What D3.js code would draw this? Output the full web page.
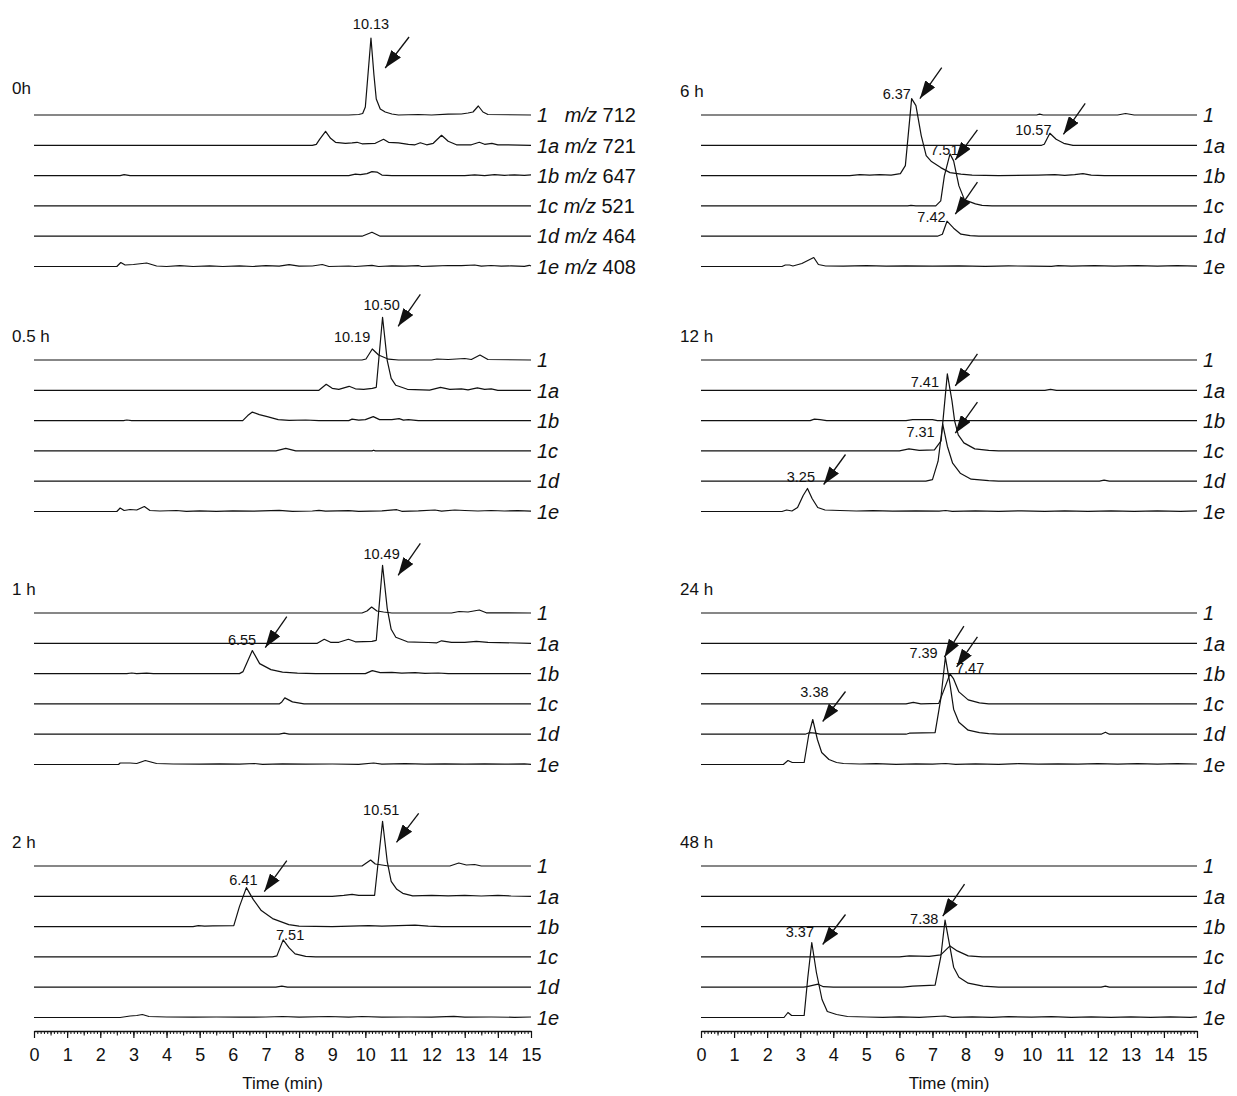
<!DOCTYPE html>
<html>
<head>
<meta charset="utf-8">
<script src="https://cdn.jsdelivr.net/npm/d3@7"></script>
<style>
  body { margin: 0; background: #fff; }
  svg { display: block; font-family: "Liberation Sans", Arial, sans-serif; }
</style>
</head>
<body>
<div id="chart"></div>
<script>
// ---- data (time in min, intensity in arbitrary units) ----
const panelNames = ["0h", "0.5 h", "1 h", "2 h", "6 h", "12 h", "24 h", "48 h"];
const traceNames = ["1", "1a", "1b", "1c", "1d", "1e"];
const mzValues = ["712", "721", "647", "521", "464", "408"];
const timeTicks = [0, 1, 2, 3, 4, 5, 6, 7, 8, 9, 10, 11, 12, 13, 14, 15];

const flat = [[0, 0], [15, 0]];

const trace0h = [
  [[0,0],[9.5,0],[9.8,0.5],[9.92,1.5],[10.0,8],[10.17,77],[10.26,40],[10.33,16],[10.45,6],[10.6,3],[10.8,1],[11.0,0],[11.6,0.5],[12.0,0],[12.5,0.8],[12.9,1],[13.1,2],[13.25,3],[13.41,9],[13.55,3],[13.7,0.5],[15,0]],
  [[0,0],[8.4,0],[8.52,1],[8.62,6],[8.8,14],[8.95,7],[9.1,3],[9.4,2],[9.6,2.5],[9.75,3],[9.9,1.5],[10.3,2],[10.55,6],[10.7,3],[11.0,2.5],[11.3,1],[11.5,0.5],[11.66,2.5],[11.85,0.5],[12.05,2],[12.3,10],[12.5,4],[12.75,0.5],[13.2,0.5],[13.44,3],[13.6,1],[13.82,2],[14.0,0.5],[14.3,0.5],[15,0]],
  [[0,0],[2.6,0],[2.72,1],[2.9,0],[9.5,0],[9.7,1.5],[9.85,1],[10.05,2],[10.2,4],[10.35,3.5],[10.5,0.5],[10.8,0],[13.0,0],[13.3,0.8],[13.6,0],[13.9,1],[14.2,0.3],[14.5,0.8],[14.8,0.2],[15,0.8]],
  flat,
  [[0,0],[9.9,0],[10.2,4],[10.45,0],[15,0]],
  [[0,0],[2.5,0],[2.62,4],[2.75,1.5],[3.0,2],[3.4,3.5],[3.7,0.5],[4.0,0],[4.4,0.8],[4.8,0],[5.3,0.7],[5.7,0],[6.2,0.6],[6.6,0],[7.0,0.8],[7.4,0.3],[7.7,1.8],[8.0,0.3],[8.4,0.5],[8.7,2],[8.9,0],[9.5,0.5],[9.7,0],[10.2,1.2],[10.4,0],[10.8,0.6],[11.2,0.3],[11.6,0.8],[11.7,0],[12.0,0.4],[12.5,1],[12.9,0.8],[13.3,1.5],[13.5,0.3],[13.8,1],[14.1,0.3],[14.4,0.6],[14.8,0.2],[14.95,1.2],[15,0.5]]
];

const trace05h = [
  [[0,0],[9.9,0],[10.02,1],[10.21,11],[10.4,5],[10.7,0.8],[11.0,0],[12.0,0],[12.16,1],[12.5,0.5],[13.0,1.5],[13.2,0.5],[13.46,5],[13.7,0.5],[15,0]],
  [[0,0],[8.6,0],[8.82,6],[9.0,2],[9.2,1],[9.51,4],[9.7,1.5],[9.95,1],[10.21,2],[10.33,3],[10.52,73],[10.66,30],[10.78,12],[10.92,5],[11.27,1],[11.94,0.2],[12.27,3],[12.55,1],[12.9,1.5],[13.1,0.5],[13.38,2.5],[13.6,1],[13.8,1.5],[14.0,0],[15,0]],
  [[0,0],[2.7,0],[2.8,0.6],[2.95,0],[6.3,0],[6.45,5],[6.59,8.5],[6.8,6],[7.04,4],[7.37,1],[7.7,0.3],[8.2,0.6],[8.6,0],[9.5,0],[9.6,1.5],[9.8,0.5],[10.0,1],[10.24,4],[10.43,1],[10.8,1],[11.02,2],[11.15,0.5],[11.3,1],[11.6,0],[15,0]],
  [[0,0],[7.3,0],[7.6,2.5],[7.9,0],[10.2,0],[10.25,0.7],[10.3,0],[15,0]],
  flat,
  [[0,0],[2.5,0],[2.6,3.5],[2.72,1],[2.9,2],[3.1,1.5],[3.33,5],[3.5,1],[3.8,0.5],[4.3,1],[4.6,0.2],[5.0,0.7],[5.5,0.2],[6.0,0.6],[6.6,0.3],[7.4,1.2],[7.8,0.2],[8.4,0.5],[8.6,1.2],[8.8,0.3],[9.5,0.8],[9.8,0.2],[10.5,0.6],[10.95,1.8],[11.1,0.2],[11.6,0.6],[12.1,1.5],[12.3,0.3],[12.7,1.5],[13.0,1],[13.4,0.5],[13.8,1],[14.2,0.5],[14.6,0.8],[15,0.3]]
];

const trace1h = [
  [[0,0],[9.9,0],[10.05,2],[10.19,6],[10.35,2],[10.55,1],[10.8,0],[12.6,0],[12.83,1.5],[13.1,1],[13.44,3],[13.65,0.2],[15,0]],
  [[0,0],[8.55,0],[8.76,4],[8.95,1],[9.2,1],[9.49,4],[9.7,1.5],[10.2,2],[10.33,3],[10.52,78],[10.66,35],[10.78,14],[10.92,6],[11.27,1.5],[11.9,0.8],[12.16,0.5],[12.3,2.5],[12.6,1],[13.0,1],[13.35,2],[13.7,1],[15,0]],
  [[0,0],[2.8,0],[2.95,0.6],[3.1,0],[3.4,0.5],[3.6,0],[6.2,0],[6.31,2],[6.59,23],[6.81,10],[7.15,4],[7.5,1.5],[7.95,0.5],[8.5,0],[10.0,0],[10.21,3],[10.45,1],[10.8,1.2],[11.1,0.5],[11.5,1],[11.8,0.2],[12.2,0.6],[12.5,0],[15,0]],
  [[0,0],[7.4,0],[7.48,2],[7.57,6],[7.8,2],[8.15,0],[15,0]],
  [[0,0],[7.4,0],[7.55,1],[7.7,0],[15,0]],
  [[0,0],[2.55,0],[2.6,1.5],[2.9,1.5],[3.1,1],[3.36,4],[3.7,1],[4.2,0.5],[5.0,0.3],[5.6,0.6],[6.2,0.3],[6.65,1],[6.9,0.2],[7.5,0.6],[8.2,0.3],[9.0,0.5],[9.8,0.2],[10.25,1.5],[10.5,0.3],[11.2,0.8],[11.8,0.3],[12.4,0.7],[13.0,0.3],[13.6,0.7],[14.2,0.3],[14.8,0.6],[15,0.2]]
];

const trace2h = [
  [[0,0],[9.9,0],[10.16,6],[10.3,2],[10.5,1],[10.7,0],[12.55,0],[12.82,3],[13.05,1],[13.3,1.5],[13.5,0],[15,0]],
  [[0,0],[9.0,0],[9.35,1],[9.6,2],[9.8,1],[10.0,1],[10.28,1],[10.52,75],[10.66,35],[10.78,15],[10.95,7],[11.13,3],[11.43,0.5],[12.0,1],[12.5,0.5],[13.0,1],[13.5,0.3],[14.0,1],[14.4,0.3],[15,0]],
  [[0,0],[4.8,0],[4.96,1],[5.15,0.5],[5.4,0.7],[6.03,1],[6.2,20],[6.41,39],[6.62,27],[6.86,16],[7.2,8],[7.69,2],[8.0,0.5],[9.0,0],[10.1,1],[10.5,0.5],[11.0,1],[11.5,1.5],[11.9,0.5],[12.3,0],[15,0]],
  [[0,0],[7.2,0],[7.33,1],[7.52,17],[7.7,9],[7.88,3],[8.2,0.5],[8.5,0],[15,0]],
  [[0,0],[7.3,0],[7.48,1],[7.65,0],[15,0]],
  [[0,0],[2.6,0],[2.9,1.5],[3.1,2],[3.27,3],[3.47,1],[4.0,0.5],[4.8,0.3],[5.5,0.5],[6.2,0.3],[7.0,0.5],[7.5,1],[8.0,0.3],[8.9,1],[9.5,0.3],[9.9,1],[10.5,0.3],[11.3,0.5],[12.0,0.3],[12.67,1.2],[13.0,0.3],[13.8,0.5],[14.5,0.2],[15,0.5]]
];

const trace6h = [
  [[0,0],[10.15,0],[10.24,0.8],[10.35,0],[12.6,0],[12.84,1.5],[13.1,0],[15,0]],
  [[0,0],[10.3,0],[10.38,1],[10.55,12],[10.74,6],[10.97,2],[11.25,0],[15,0]],
  [[0,0],[4.5,0],[4.8,1],[5.1,0.5],[5.4,1],[5.75,0.5],[6.03,2],[6.18,10],[6.37,77],[6.5,70],[6.66,40],[6.81,20],[6.97,14],[7.25,8],[7.53,3],[7.86,1.5],[8.2,0.5],[9.0,0],[10.2,0.5],[10.7,1],[11.0,0.3],[11.3,1],[11.55,2],[11.8,0.5],[12.2,0],[15,0]],
  [[0,0],[6.25,0],[6.35,0.5],[6.5,0],[7.1,0],[7.25,5],[7.36,30],[7.53,52],[7.64,45],[7.8,20],[7.97,6],[8.3,2],[8.5,0.5],[8.8,0],[15,0]],
  [[0,0],[7.15,0],[7.3,2],[7.44,15],[7.64,8],[7.86,2],[8.14,0.5],[8.4,0],[15,0]],
  [[0,0],[2.45,0],[2.55,1.5],[2.68,1.5],[2.78,0.5],[3.05,3],[3.41,9],[3.55,2],[3.77,0.5],[4.3,0.3],[5.0,0.8],[5.6,0.3],[6.2,0.6],[7.0,0.3],[7.8,0.7],[8.6,0.2],[9.3,0.6],[10.0,0.3],[10.6,0.2],[10.8,0.8],[11.2,0.3],[11.9,0.8],[12.5,0.3],[13.2,0.8],[13.8,0.3],[14.4,0.8],[15,0.3]]
];

const trace12h = [
  flat,
  [[0,0],[10.4,0],[10.57,1],[10.75,0],[15,0]],
  [[0,0],[3.3,0],[3.43,1.5],[3.6,1],[3.8,0],[6.2,0],[6.4,1],[7.0,1],[7.15,0],[15,0]],
  [[0,0],[6.0,0],[6.29,2],[6.6,0.5],[7.06,1],[7.26,10],[7.45,77],[7.59,50],[7.67,30],[7.78,16],[7.95,8],[8.28,2],[8.7,0.5],[9.0,0],[15,0]],
  [[0,0],[6.8,0],[7.0,1.5],[7.17,20],[7.31,57],[7.45,35],[7.61,18],[7.84,8],[8.17,2],[8.7,0.5],[9.0,0],[12.05,0],[12.19,1],[12.35,0],[15,0]],
  [[0,0],[2.45,0],[2.59,1.5],[2.75,0.5],[2.92,4],[3.09,16],[3.22,23],[3.36,13],[3.53,4],[3.75,1.5],[4.2,1],[4.7,0.5],[5.2,0.8],[5.8,0.3],[6.5,0.6],[7.2,0.3],[7.4,1],[7.6,0.2],[8.3,0.6],[9.0,0.2],[9.7,0.7],[10.4,0.2],[11.0,0.6],[11.7,0.2],[12.4,0.6],[13.1,0.2],[13.8,0.7],[14.5,0.2],[15,0.6]]
];

const trace24h = [
  flat,
  flat,
  flat,
  [[0,0],[6.2,0],[6.42,1.5],[6.65,0],[7.19,0.5],[7.36,15],[7.53,30],[7.64,25],[7.8,12],[8.08,4],[8.42,1],[8.7,0],[15,0]],
  [[0,0],[3.15,0],[3.27,1.5],[3.45,1],[3.6,0],[6.2,0],[6.3,1],[7.08,1.5],[7.25,35],[7.39,77],[7.53,50],[7.64,25],[7.8,12],[8.08,4],[8.42,1.5],[8.7,0.5],[9.0,0],[12.1,0],[12.23,2],[12.35,0],[15,0]],
  [[0,0],[2.49,0],[2.63,4],[2.76,2],[3.12,2],[3.26,30],[3.38,45],[3.52,25],[3.65,12],[3.87,5],[4.1,2],[4.31,1],[4.8,0.5],[5.3,0.8],[5.9,0.2],[6.5,0.6],[7.0,0.3],[7.4,1],[7.7,0.2],[8.3,0.6],[9.0,0.2],[9.6,0.8],[10.2,0.3],[10.8,0.7],[11.4,0.3],[12.0,0.8],[12.6,0.3],[13.2,0.8],[13.8,0.3],[14.4,0.8],[15,0.5]]
];

const trace48h = [
  flat,
  flat,
  flat,
  [[0,0],[6.0,0],[6.3,1],[6.9,0.5],[7.25,2],[7.53,11],[7.75,6],[8.08,1],[8.5,0],[15,0]],
  [[0,0],[3.1,0],[3.21,0.5],[3.54,3],[3.7,0.5],[4.0,0],[6.1,0],[6.4,1],[7.08,2],[7.25,30],[7.38,67],[7.53,40],[7.64,20],[7.8,10],[8.08,4],[8.53,1],[9.0,0],[12.1,0],[12.23,1],[12.35,0],[15,0]],
  [[0,0],[2.51,0],[2.63,5],[2.74,2],[3.12,2],[3.23,40],[3.35,75],[3.49,45],[3.66,18],[3.82,6],[4.1,3],[4.43,1],[5.0,0.5],[5.5,0.2],[6.0,0.7],[6.6,0.2],[7.38,1.5],[7.6,0.2],[8.2,0.6],[8.8,0.2],[9.3,0.8],[10.0,0.3],[10.6,0.8],[11.2,0.2],[11.8,0.7],[12.4,0.2],[13.0,0.6],[13.6,0.2],[14.2,0.6],[14.8,0.2],[15,0.6]]
];

// peak labels: [trace index, time, intensity, text]
const peaks0h = [[0, 10.17, 91, "10.13"]];
const peaks05h = [[1, 10.49, 86, "10.50"], [0, 9.6, 23, "10.19"]];
const peaks1h = [[1, 10.49, 90, "10.49"], [2, 6.28, 34, "6.55"]];
const peaks2h = [[1, 10.48, 87, "10.51"], [2, 6.32, 47, "6.41"], [3, 7.73, 22, "7.51"]];
const peaks6h = [[2, 5.92, 82, "6.37"], [1, 10.05, 16, "10.57"], [3, 7.36, 56, "7.51"], [4, 6.97, 19, "7.42"]];
const peaks12h = [[3, 6.77, 69, "7.41"], [4, 6.64, 49, "7.31"], [5, 3.02, 35, "3.25"]];
const peaks24h = [[4, 6.73, 81, "7.39"], [3, 8.14, 36, "7.47"], [5, 3.43, 73, "3.38"]];
const peaks48h = [[5, 2.99, 86, "3.37"], [4, 6.75, 68, "7.38"]];

// arrows: [trace index, tail time, tail intensity, tip time, tip intensity]
const arrows0h = [[0, 11.32, 78, 10.6, 47]];
const arrows05h = [[1, 11.66, 96, 10.99, 64]];
const arrows1h = [[1, 11.66, 100, 10.99, 68], [2, 7.63, 57, 6.98, 26]];
const arrows2h = [[1, 11.61, 83, 10.94, 54], [2, 7.63, 66, 6.95, 35]];
const arrows6h = [[2, 7.28, 108, 6.62, 77], [1, 11.62, 42, 10.96, 11], [3, 8.36, 76, 7.69, 46], [4, 8.36, 54, 7.69, 22]];
const arrows12h = [[3, 8.36, 97, 7.69, 65], [4, 8.36, 79, 7.69, 48], [5, 4.37, 57, 3.71, 27]];
const arrows24h = [[4, 7.95, 108, 7.36, 77], [3, 8.36, 67, 7.73, 37], [5, 4.37, 73, 3.68, 43]];
const arrows48h = [[5, 4.37, 103, 3.68, 73], [4, 7.97, 103, 7.31, 71]];

const panels = [
  { col: 0, row: 0, traces: trace0h, peaks: peaks0h, arrows: arrows0h },
  { col: 0, row: 1, traces: trace05h, peaks: peaks05h, arrows: arrows05h },
  { col: 0, row: 2, traces: trace1h, peaks: peaks1h, arrows: arrows1h },
  { col: 0, row: 3, traces: trace2h, peaks: peaks2h, arrows: arrows2h },
  { col: 1, row: 0, traces: trace6h, peaks: peaks6h, arrows: arrows6h },
  { col: 1, row: 1, traces: trace12h, peaks: peaks12h, arrows: arrows12h },
  { col: 1, row: 2, traces: trace24h, peaks: peaks24h, arrows: arrows24h },
  { col: 1, row: 3, traces: trace48h, peaks: peaks48h, arrows: arrows48h }
];

// ---- layout ----
const width = 1237;
const height = 1096;
const rowBase = [115, 360, 613, 866];
const traceGap = 30.3;
const axisY = 1031;

const xScales = [
  d3.scaleLinear().domain([0, 15]).range([34, 531]),
  d3.scaleLinear().domain([0, 15]).range([701, 1197])
];

const svg = d3.select('#chart')
  .append('svg')
  .attr('width', width)
  .attr('height', height);

svg.append('rect').attr('width', width).attr('height', height).attr('fill', '#fff');

svg.append('defs').append('marker')
  .attr('id', 'head')
  .attr('markerUnits', 'userSpaceOnUse')
  .attr('markerWidth', 19)
  .attr('markerHeight', 12)
  .attr('refX', 18)
  .attr('refY', 6)
  .attr('orient', 'auto')
  .append('path')
  .attr('d', 'M0,0 L18,6 L0,12 Z')
  .attr('fill', '#111');

const ink = '#111';

panels.forEach((p, pi) => {
  const x = xScales[p.col];
  const base = rowBase[p.row];
  const yFor = i => d3.scaleLinear().domain([0, 100]).range([base + i * traceGap, base + i * traceGap - 100]);
  const g = svg.append('g');

  // panel title
  g.append('text')
    .attr('x', x.range()[0] - (p.col === 0 ? 22 : 21))
    .attr('y', base - (pi === 0 ? 27 : 24))
    .attr('dy', '0.35em')
    .attr('font-size', 17)
    .attr('fill', ink)
    .text(panelNames[pi]);

  // traces
  p.traces.forEach((pts, i) => {
    const y = yFor(i);
    const line = d3.line()
      .x(d => x(d[0]))
      .y(d => y(d[1]));
    g.append('path')
      .datum(pts)
      .attr('fill', 'none')
      .attr('stroke', ink)
      .attr('stroke-width', 1.2)
      .attr('stroke-linejoin', 'round')
      .attr('d', line);

    const lbl = g.append('text')
      .attr('x', x(15) + 6)
      .attr('y', y(0))
      .attr('dy', '0.36em')
      .attr('font-size', 20)
      .attr('fill', ink);
    lbl.append('tspan').attr('font-style', 'italic').text(traceNames[i]);
    if (pi === 0) {
      lbl.append('tspan').attr('font-style', 'italic').text((i === 0 ? '\u00a0\u00a0\u00a0' : '\u00a0') + 'm/z');
      lbl.append('tspan').text('\u00a0' + mzValues[i]);
    }
  });

  // peak labels
  p.peaks.forEach(([ti, t, h, txt]) => {
    const y = yFor(ti);
    g.append('text')
      .attr('x', x(t))
      .attr('y', y(h))
      .attr('dy', '0.36em')
      .attr('text-anchor', 'middle')
      .attr('font-size', 14.5)
      .attr('fill', ink)
      .text(txt);
  });

  // arrows
  p.arrows.forEach(([ti, t0, h0, t1, h1]) => {
    const y = yFor(ti);
    g.append('line')
      .attr('x1', x(t0)).attr('y1', y(h0))
      .attr('x2', x(t1)).attr('y2', y(h1))
      .attr('stroke', ink)
      .attr('stroke-width', 1.3)
      .attr('marker-end', 'url(#head)');
  });
});

// x axes
xScales.forEach(x => {
  const minor = d3.range(0, 151).map(d => d / 10);
  svg.append('g')
    .attr('transform', `translate(0,${axisY})`)
    .call(d3.axisBottom(x).tickValues(minor).tickSize(3).tickSizeOuter(0).tickFormat(''))
    .call(a => a.selectAll('line').attr('stroke', ink))
    .call(a => a.select('.domain').attr('stroke', ink).attr('stroke-width', 1.3));

  svg.append('g')
    .attr('transform', `translate(0,${axisY})`)
    .call(d3.axisBottom(x).tickValues(minor.filter(d => Math.abs(d * 2 - Math.round(d * 2)) < 1e-6)).tickSize(4.5).tickSizeOuter(0).tickFormat(''))
    .call(a => a.selectAll('line').attr('stroke', ink))
    .call(a => a.select('.domain').remove());

  const major = svg.append('g')
    .attr('transform', `translate(0,${axisY})`)
    .call(d3.axisBottom(x).tickValues(timeTicks).tickSize(7).tickSizeOuter(0).tickPadding(10).tickFormat(d3.format('d')));
  major.select('.domain').remove();
  major.selectAll('line').attr('stroke', ink).attr('stroke-width', 1.2);
  major.selectAll('text')
    .attr('font-family', '"Liberation Sans", Arial, sans-serif')
    .attr('font-size', 18)
    .attr('fill', ink);

  svg.append('text')
    .attr('x', (x.range()[0] + x.range()[1]) / 2)
    .attr('y', 1089)
    .attr('text-anchor', 'middle')
    .attr('font-size', 17)
    .attr('fill', ink)
    .text('Time (min)');
});
</script>
</body>
</html>
